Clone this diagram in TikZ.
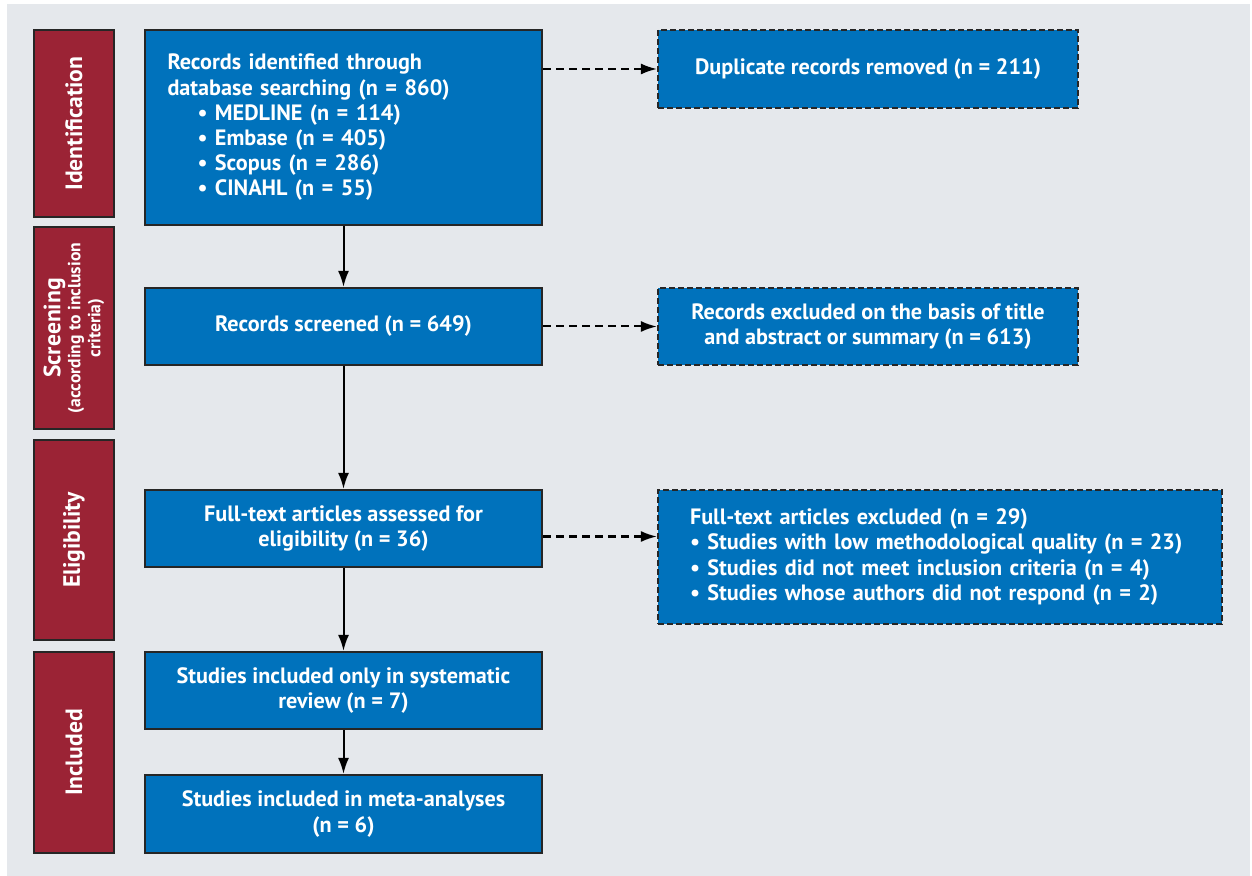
\documentclass[tikz,border=0pt]{standalone}
\usepackage{fontspec}
\setmainfont{PT Sans}
\usetikzlibrary{arrows.meta}

\definecolor{boxblue}{RGB}{0,114,188}
\definecolor{phasered}{RGB}{155,35,53}
\definecolor{panelgray}{RGB}{229,232,236}

\tikzset{
  box/.style={draw=black!85, line width=1.1pt, fill=boxblue, text=white,
    font=\bfseries\fontsize{11.1}{12.6}\selectfont, align=center, inner sep=0pt,
    minimum width=198.5pt, minimum height=38.5pt},
  exbox/.style={box, dash pattern=on 3pt off 1.5pt},
  phase/.style={draw=black!85, line width=1.1pt, fill=phasered, text=white,
    font=\bfseries\fontsize{11.8}{12}\selectfont, align=center, inner sep=0pt,
    rotate=90, minimum height=40pt},
  flow/.style={line width=1pt, -{Latex[length=8pt,width=5.5pt]}},
  exflow/.style={flow, dash pattern=on 4pt off 2.5pt},
}

\begin{document}
\begin{tikzpicture}[x=0.5pt, y=-0.5pt]
\useasboundingbox (0,0) rectangle (1252,876);
\fill[panelgray] (7,4) rectangle (1250,876);

% phases
\node[phase, minimum width=93.5pt] (pident) at (74,123.5) {Identification};
\node[phase, minimum width=101pt] (pscreen) at (74,328) {Screening\\[-2pt]{\fontsize{8.8}{9.2}\selectfont(according to inclusion}\\[-2pt]{\fontsize{8.8}{9.2}\selectfont criteria)}};
\node[phase, minimum width=100pt] (pelig) at (74,540) {Eligibility};
\node[phase, minimum width=100.5pt] (pincl) at (74,752.5) {Included};

% main flow
\node[box, minimum height=97.5pt, text width=176pt, align=left] (ident) at (343.5,127.5)
  {Records identified through\\database searching (n = 860)\\
   \hspace*{15pt}\textbullet\ MEDLINE (n = 114)\\
   \hspace*{15pt}\textbullet\ Embase (n = 405)\\
   \hspace*{15pt}\textbullet\ Scopus (n = 286)\\
   \hspace*{15pt}\textbullet\ CINAHL (n = 55)};
\node[box] (screen) at (343.5,326.5) {Records screened (n = 649)};
\node[box] (full) at (343.5,528.5) {Full-text articles assessed for\\eligibility (n = 36)};
\node[box] (only) at (343.5,690.5) {Studies included only in systematic\\review (n = 7)};
\node[box, minimum height=39pt] (meta) at (343.5,814) {Studies included in meta-analyses\\(n = 6)};

% excluded
\node[exbox, minimum width=210pt, minimum height=39pt] (dup) at (868,69) {Duplicate records removed (n = 211)};
\node[exbox, minimum width=210pt] (excl) at (868,326.5) {Records excluded on the basis of title\\and abstract or summary (n = 613)};
\node[exbox, minimum width=282pt, minimum height=67pt, text width=250pt, align=left] (ftex) at (940,557)
  {Full-text articles excluded (n = 29)\\
   \textbullet\ Studies with low methodological quality (n = 23)\\
   \textbullet\ Studies did not meet inclusion criteria (n = 4)\\
   \textbullet\ Studies whose authors did not respond (n = 2)};

\draw[flow] (ident) -- (screen);
\draw[flow] (screen) -- (full);
\draw[flow] (full) -- (only);
\draw[flow] (only) -- (meta);

\draw[exflow] (dup.west -| ident.east) -- (dup.west);
\draw[exflow] (screen.east) -- (excl.west);
\draw[exflow] ([yshift=-4pt]full.east) -- ([yshift=-4pt]full.east -| ftex.west);
\end{tikzpicture}
\end{document}
